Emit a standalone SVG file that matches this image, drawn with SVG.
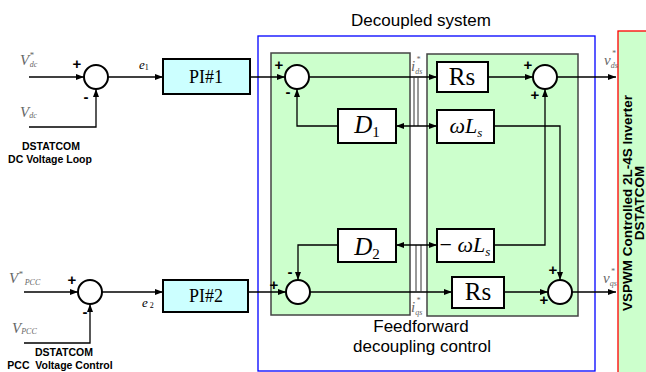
<svg xmlns="http://www.w3.org/2000/svg" width="646" height="372" viewBox="0 0 646 372">
  <defs>
    <marker id="ah" viewBox="0 0 8 6" refX="8" refY="3" markerWidth="8" markerHeight="6" markerUnits="userSpaceOnUse" orient="auto-start-reverse">
      <path d="M0,0 L8,3 L0,6 z" fill="#000"/>
    </marker>
  </defs>
  <style>
    .ln { fill: none; stroke: #000; stroke-width: 1.3; }
    .tap { fill: none; stroke: #333; stroke-width: 1; }
    .arr { marker-end: url(#ah); }
    .sum { fill: #fff; stroke: #000; stroke-width: 2; }
    .blk { fill: #fff; stroke: #000; stroke-width: 2; }
    .pi { fill: #ccffff; stroke: #000; stroke-width: 2; }
    .grn { fill: #ccffcc; stroke: #444; stroke-width: 1.5; }
    .sgn { font-family: "Liberation Sans", Arial, sans-serif; font-weight: bold; font-size: 15px; fill: #000; text-anchor: middle; }
    .cap { font-family: "Liberation Sans", Arial, sans-serif; font-size: 17px; fill: #000; text-anchor: middle; }
    .lbl { font-family: "Liberation Sans", Arial, sans-serif; font-weight: bold; font-size: 10.5px; fill: #000; text-anchor: middle; }
    .math { font-family: "Liberation Serif", "Times New Roman", serif; font-style: italic; fill: #666; }
    .bt { font-family: "Liberation Serif", "Times New Roman", serif; fill: #000; text-anchor: middle; }
    .it { font-style: italic; }
  </style>

  <!-- frames -->
  <g id="decoupled-system">
    <rect x="258" y="36" width="337" height="335" fill="none" stroke="#0000ff" stroke-width="1.3"/>
    <text class="cap" x="421" y="26">Decoupled system</text>
  </g>
  <g id="feedforward-block">
    <rect class="grn" x="271" y="53" width="139" height="262"/>
    <rect class="grn" x="427" y="54" width="151" height="262"/>
    <text class="cap" x="421" y="332">Feedforward</text>
    <text class="cap" x="422" y="352">decoupling control</text>
  </g>
  <g id="inverter">
    <rect x="618" y="31" width="40" height="350" fill="#ccffcc" stroke="#ff0000" stroke-width="1.3"/>
    <g transform="translate(632,203) rotate(-90)">
      <text class="lbl" x="0" y="0" style="font-size:13.5px">VSPWM Controlled 2L-4S Inverter</text>
      <text class="lbl" x="0" y="12" style="font-size:13.5px">DSTATCOM</text>
    </g>
  </g>

  <!-- connectors -->
  <g id="connectors">
    <!-- DC voltage loop -->
    <path class="ln arr" d="M29,77 H84"/>
    <path class="ln arr" d="M29,127 H96 V89"/>
    <path class="ln arr" d="M108,77 H163"/>
    <path class="ln arr" d="M250,77 H285"/>
    <path class="ln arr" d="M309,77 H437"/>
    <path class="tap" d="M414,77 V126 M418,77 V126"/>
    <path class="ln" d="M396,126 H437" marker-start="url(#ah)" marker-end="url(#ah)"/>
    <path class="ln arr" d="M338,126 H297 V89"/>
    <path class="ln arr" d="M488,77 H533"/>
    <path class="ln arr" d="M557,77 H616"/>
    <path class="ln arr" d="M494,126 H560 V280"/>
    <path class="ln arr" d="M494,245 H545 V89"/>
    <!-- PCC voltage loop -->
    <path class="ln arr" d="M24,292 H78"/>
    <path class="ln arr" d="M24,343 H90 V304"/>
    <path class="ln arr" d="M102,292 H163"/>
    <path class="ln arr" d="M248,292 H286"/>
    <path class="ln arr" d="M310,292 H452"/>
    <path class="tap" d="M416,245 V292 M421,245 V292"/>
    <path class="ln" d="M396,245 H437" marker-start="url(#ah)" marker-end="url(#ah)"/>
    <path class="ln arr" d="M338,245 H298 V280"/>
    <path class="ln arr" d="M504,292 H548"/>
    <path class="ln arr" d="M572,292 H616"/>
  </g>

  <!-- summing junctions -->
  <g id="sum1"><circle class="sum" cx="96" cy="77" r="12"/><text class="sgn" x="77" y="69">+</text><text class="sgn" x="86" y="102">-</text></g>
  <g id="sum2"><circle class="sum" cx="90" cy="292" r="12"/><text class="sgn" x="72" y="285">+</text><text class="sgn" x="85" y="317">-</text></g>
  <g id="sum3"><circle class="sum" cx="297" cy="77" r="12"/><text class="sgn" x="279" y="70">+</text><text class="sgn" x="288" y="97">-</text></g>
  <g id="sum4"><circle class="sum" cx="545" cy="77" r="12"/><text class="sgn" x="528" y="70">+</text><text class="sgn" x="535" y="100">+</text></g>
  <g id="sum5"><circle class="sum" cx="560" cy="292" r="12"/><text class="sgn" x="553" y="275">+</text><text class="sgn" x="544" y="305">+</text></g>
  <g id="sum6"><circle class="sum" cx="298" cy="292" r="12"/><text class="sgn" x="274" y="290">+</text><text class="sgn" x="290" y="277">-</text></g>

  <!-- controller blocks -->
  <g id="pi1"><rect class="pi" x="163" y="59" width="87" height="35"/><text class="bt" x="206" y="83" font-size="18">PI#1</text></g>
  <g id="pi2"><rect class="pi" x="163" y="280" width="85" height="32"/><text class="bt" x="206" y="302" font-size="18">PI#2</text></g>
  <g id="d1"><rect class="blk" x="338" y="109" width="58" height="34"/><text class="bt" x="367" y="133" font-size="25"><tspan class="it">D</tspan><tspan font-size="15" dy="4">1</tspan></text></g>
  <g id="d2"><rect class="blk" x="338" y="229" width="58" height="33"/><text class="bt" x="367" y="255" font-size="25"><tspan class="it">D</tspan><tspan font-size="15" dy="4">2</tspan></text></g>
  <g id="rs1"><rect class="blk" x="437" y="62" width="51" height="30"/><text class="bt" x="462" y="85" font-size="25">Rs</text></g>
  <g id="rs2"><rect class="blk" x="452" y="277" width="52" height="31"/><text class="bt" x="478" y="300" font-size="25">Rs</text></g>
  <g id="wl1"><rect class="blk" x="437" y="110" width="57" height="33"/><text class="bt it" x="466" y="133" font-size="22">ωL<tspan font-size="13" dy="4">s</tspan></text></g>
  <g id="wl2"><rect class="blk" x="437" y="229" width="57" height="33"/><text class="bt it" x="465" y="252" font-size="22"><tspan font-style="normal">−</tspan> ωL<tspan font-size="13" dy="4">s</tspan></text></g>

  <!-- signal labels -->
  <g id="signal-labels">
    <text class="math" x="20" y="65" font-size="15">V<tspan font-size="9" dy="-7">*</tspan><tspan font-size="8" dx="-4" dy="9">dc</tspan></text>
    <text class="math" x="20" y="117" font-size="15">V<tspan font-size="8" dy="1">dc</tspan></text>
    <text class="math" x="9" y="283" font-size="15">V<tspan font-size="9" dy="-6">*</tspan><tspan font-size="8" dx="2" dy="8">PCC</tspan></text>
    <text class="math" x="12" y="333" font-size="15">V<tspan font-size="8" dy="1">PCC</tspan></text>
    <text class="math" x="139" y="69" font-size="13" style="fill:#000">e<tspan font-size="8" font-style="normal" dy="1">1</tspan></text>
    <text class="math" x="142" y="307" font-size="13" style="fill:#000">e<tspan font-size="8" font-style="normal" dy="1"> 2</tspan></text>
    <text class="math" x="411" y="71" font-size="15">i<tspan font-size="8" dx="1" dy="-9">*</tspan><tspan font-size="8" dx="-5" dy="12">ds</tspan></text>
    <text class="math" x="411" y="312" font-size="15">i<tspan font-size="8" dx="1" dy="-9">*</tspan><tspan font-size="8" dx="-5" dy="12">qs</tspan></text>
    <text class="math" x="604" y="65" font-size="15">v<tspan font-size="8" dx="1" dy="-9">*</tspan><tspan font-size="8" dx="-5" dy="12">ds</tspan></text>
    <text class="math" x="603" y="283" font-size="15">v<tspan font-size="8" dx="1" dy="-9">*</tspan><tspan font-size="8" dx="-5" dy="12">qs</tspan></text>
  </g>

  <!-- loop captions -->
  <g id="captions">
    <text class="lbl" x="51" y="150">DSTATCOM</text>
    <text class="lbl" x="50" y="163">DC Voltage Loop</text>
    <text class="lbl" x="64" y="356">DSTATCOM</text>
    <text class="lbl" x="60" y="369" xml:space="preserve">PCC  Voltage Control</text>
  </g>
</svg>
